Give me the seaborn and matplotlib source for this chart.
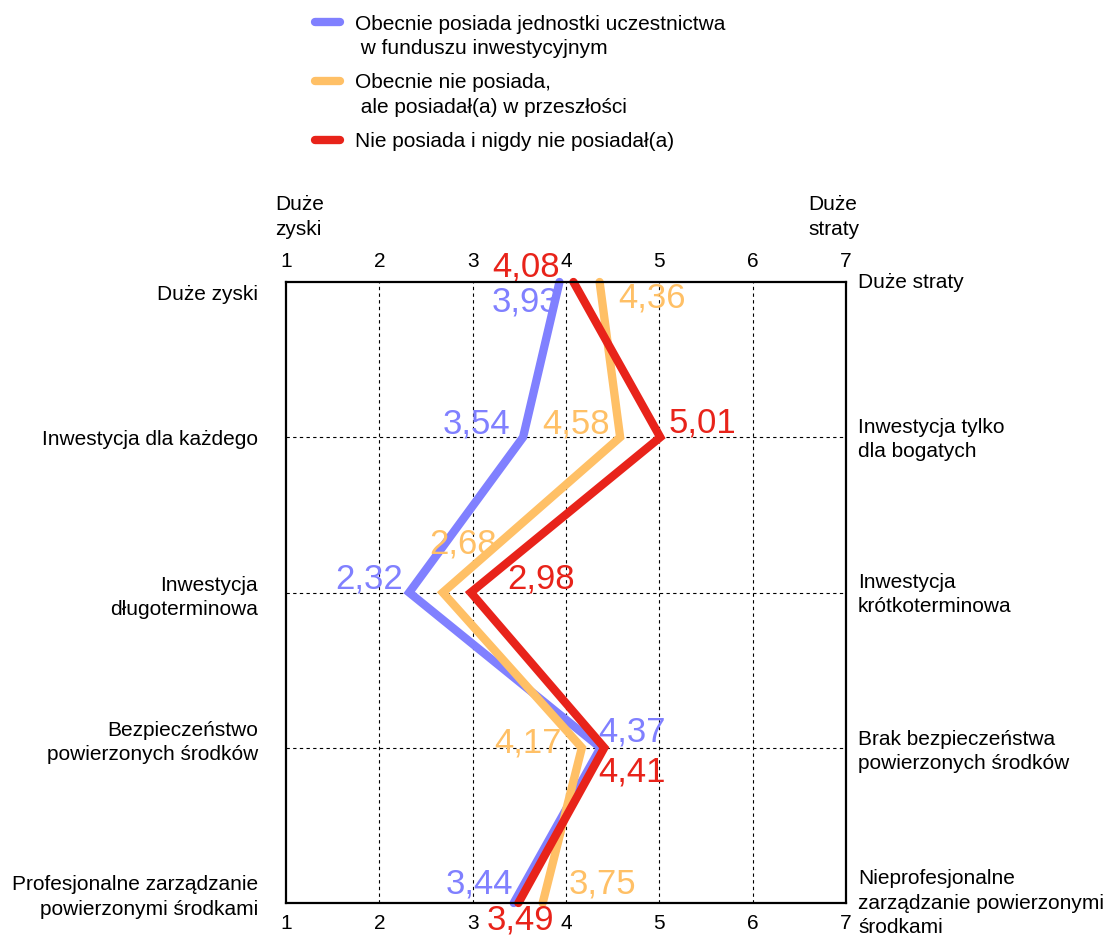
import matplotlib
matplotlib.use("Agg")
import matplotlib.pyplot as plt
import seaborn as sns
import pandas as pd
from matplotlib.lines import Line2D
from matplotlib.legend_handler import HandlerLine2D
import matplotlib.transforms as mtransforms

# ---- data ----
groups = [
    "Obecnie posiada jednostki uczestnictwa\n w funduszu inwestycyjnym",
    "Obecnie nie posiada,\n ale posiadał(a) w przeszłości",
    "Nie posiada i nigdy nie posiadał(a)",
]
blue_vals = [3.93, 3.54, 2.32, 4.37, 3.44]
orange_vals = [4.36, 4.58, 2.68, 4.17, 3.75]
red_vals = [4.08, 5.01, 2.98, 4.41, 3.49]
left_labels = [
    "Duże zyski",
    "Inwestycja dla każdego",
    "Inwestycja\ndługoterminowa",
    "Bezpieczeństwo\npowierzonych środków",
    "Profesjonalne zarządzanie\npowierzonymi środkami",
]
right_labels = [
    "Duże straty",
    "Inwestycja tylko\ndla bogatych",
    "Inwestycja\nkrótkoterminowa",
    "Brak bezpieczeństwa\npowierzonych środków",
    "Nieprofesjonalne\nzarządzanie powierzonymi\nśrodkami",
]
scale_ticks = [1, 2, 3, 4, 5, 6, 7]

colors = ["#8080FF", "#FFC066", "#E8231A"]
# label offsets in pixels (dx, dy with dy positive downward)
label_offsets = [
    [(-34, 20), (-47, -13), (-40, -14), (31, -16), (-34, -19)],
    [(52, 16), (-44, -13), (20, -49), (-54, -5), (60, -19)],
    [(-47, -15), (42, -14), (70, -14), (28, 24), (2, 17)],
]
left_dy = [12, 2, 5, -5, -6]
right_dy = [0, 2, 2, 4, 0]

rows = list(range(len(left_labels)))
series = [blue_vals, orange_vals, red_vals]
df = pd.DataFrame({
    "value": [v for s in series for v in s],
    "row": [r for _ in series for r in rows],
    "group": [g for g in groups for _ in rows],
})

sns.set_theme(style="white")
plt.rcParams["font.family"] = ["Liberation Sans", "DejaVu Sans"]
plt.rcParams["text.color"] = "black"
plt.rcParams["xtick.color"] = "black"
plt.rcParams["ytick.color"] = "black"

FS = 15
LS = 1.35

fig = plt.figure(figsize=(11.04, 9.38), dpi=100)
ax = fig.add_axes([286 / 1104, 35 / 938, 560 / 1104, 621 / 938])

# grid
for x in scale_ticks[1:-1]:
    ax.axvline(x, color="black", lw=0.8, ls=(0, (3, 3)), zorder=1)
for r in rows[1:-1]:
    ax.axhline(r, color="black", lw=0.8, ls=(0, (3, 3)), zorder=1)

sns.lineplot(data=df, x="value", y="row", hue="group", hue_order=groups,
             palette=colors, sort=False, orient="y", estimator=None,
             linewidth=6, legend=False, ax=ax)
for ln in ax.get_lines()[-3:]:
    ln.set_solid_capstyle("round")
    ln.set_solid_joinstyle("miter")
    ln.set_clip_on(False)
    ln.set_zorder(3)

# value labels
for s, col, offs in zip(series, colors, label_offsets):
    for r, v, (dx, dy) in zip(rows, s, offs):
        ax.annotate(f"{v:.2f}".replace(".", ","), xy=(v, r), xytext=(dx, -dy),
                    textcoords="offset pixels", ha="center", va="center",
                    color=col, fontsize=25, zorder=4, annotation_clip=False)

ax.set_xlim(1, 7)
ax.set_ylim(4, 0)
ax.set_xticks(scale_ticks)
ax.set_xticklabels([str(t) for t in scale_ticks], fontsize=FS)
ax.tick_params(axis="x", top=True, labeltop=True, length=0, pad=8)
ax.set_yticks([])
ax.set_xlabel("")
ax.set_ylabel("")
for sp in ax.spines.values():
    sp.set_color("black")
    sp.set_linewidth(1.6)
    sp.set_zorder(5)

# side labels
blend = mtransforms.blended_transform_factory(ax.transAxes, ax.transData)
for r, lab, dy in zip(rows, left_labels, left_dy):
    tr = blend + mtransforms.ScaledTranslation(-28 / 100, -dy / 100, fig.dpi_scale_trans)
    ax.text(0, r, lab, transform=tr, ha="right", va="center", fontsize=FS,
            multialignment="right", linespacing=LS, clip_on=False)
for r, lab, dy in zip(rows, right_labels, right_dy):
    tr = blend + mtransforms.ScaledTranslation(12 / 100, -dy / 100, fig.dpi_scale_trans)
    ax.text(1, r, lab, transform=tr, ha="left", va="center", fontsize=FS,
            multialignment="left", linespacing=LS, clip_on=False)

fig.text(275 / 1104, 1 - 217 / 938, "Duże\nzyski", fontsize=FS, ha="left",
         va="center", linespacing=LS)
fig.text(808 / 1104, 1 - 217 / 938, "Duże\nstraty", fontsize=FS, ha="left",
         va="center", linespacing=LS)


class FirstLineHandler(HandlerLine2D):
    def __init__(self, nlines, **kw):
        super().__init__(**kw)
        self.nlines = nlines

    def create_artists(self, legend, orig_handle, xdescent, ydescent, width,
                       height, fontsize, trans):
        shift = (self.nlines - 1) * LS * fontsize
        return super().create_artists(legend, orig_handle, xdescent,
                                      ydescent - shift, width, height,
                                      fontsize, trans)


handles = [Line2D([0], [0], color=c, lw=6, solid_capstyle="round") for c in colors]
handler_map = {h: FirstLineHandler(g.count("\n") + 1) for h, g in zip(handles, groups)}
leg = fig.legend(handles, groups, loc="upper left", bbox_to_anchor=(300 / 1104, 1.0),
                 frameon=False, fontsize=FS, handlelength=1.2, handletextpad=0.75,
                 labelspacing=0.75, borderpad=0.2, handler_map=handler_map)
for t in leg.get_texts():
    t.set_linespacing(LS)

fig.savefig("out.png", dpi=100)
